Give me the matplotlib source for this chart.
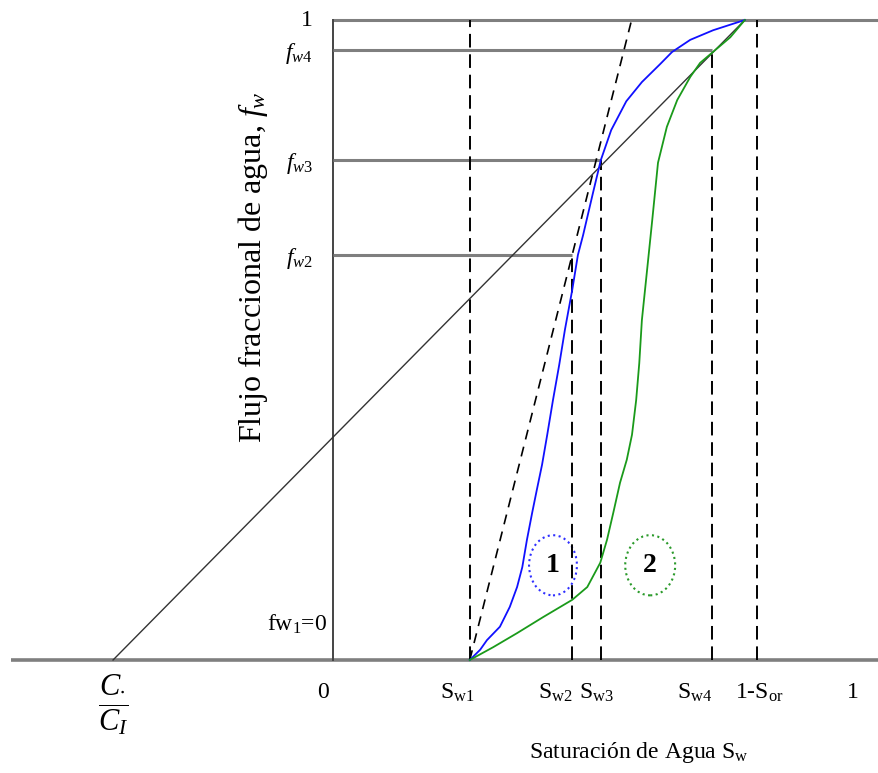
import matplotlib
matplotlib.use("Agg")
import matplotlib.pyplot as plt
from matplotlib.patches import Ellipse

plt.rcParams['font.family'] = ['Liberation Serif', 'DejaVu Serif']
plt.rcParams['mathtext.fontset'] = 'custom'
plt.rcParams['mathtext.rm'] = 'Liberation Serif'
plt.rcParams['mathtext.it'] = 'Liberation Serif:italic'
plt.rcParams['mathtext.bf'] = 'Liberation Serif:bold'

# saturation marks on the x axis
c_ratio = -0.423
sw_marks = [0.263, 0.460, 0.515, 0.729, 0.815]   # Sw1, Sw2, Sw3, Sw4, 1-Sor
sw_labels = [r'S$_{\rm w1}$', r'S$_{\rm w2}$', r'S$_{\rm w3}$', r'S$_{\rm w4}$', r'1-S$_{\rm or}$']
sw_tops = [1.0, 0.633, 0.781, 0.953, 1.0]

# fractional flow levels
fw_levels = [0.633, 0.781, 0.953]
fw_labels = [r'$f_{w2}$', r'$f_{w3}$', r'$f_{w4}$']

# curve 1 (blue)
sw_1 = [0.263, 0.283, 0.296, 0.321, 0.340, 0.354, 0.364, 0.373, 0.383, 0.392,
        0.402, 0.412, 0.423, 0.435, 0.446, 0.460, 0.471, 0.481, 0.500, 0.515,
        0.535, 0.564, 0.594, 0.629, 0.652, 0.687, 0.731, 0.769, 0.792]
fw_1 = [0.0, 0.016, 0.031, 0.052, 0.083, 0.114, 0.145, 0.188, 0.230, 0.266,
        0.305, 0.352, 0.406, 0.461, 0.516, 0.578, 0.633, 0.664, 0.730, 0.781,
        0.828, 0.873, 0.903, 0.931, 0.950, 0.969, 0.984, 0.994, 1.0]

# curve 2 (green)
sw_2 = [0.263, 0.308, 0.354, 0.404, 0.460, 0.489, 0.514, 0.527, 0.539, 0.552,
        0.565, 0.575, 0.583, 0.589, 0.594, 0.600, 0.606, 0.614, 0.625, 0.642,
        0.662, 0.687, 0.706, 0.735, 0.764, 0.792]
fw_2 = [0.0, 0.020, 0.042, 0.067, 0.094, 0.114, 0.152, 0.188, 0.230, 0.277,
        0.313, 0.352, 0.406, 0.464, 0.531, 0.578, 0.625, 0.688, 0.777, 0.833,
        0.875, 0.911, 0.933, 0.953, 0.973, 1.0]

# end point of the straight line from C/C_I
line_end = (0.792, 1.0)

fig = plt.figure(figsize=(8.79, 7.73), dpi=100)
ax = fig.add_axes([0, 0, 1, 1])
ax.set_xlim(-333 / 520, 546 / 520)
ax.set_ylim(-113 / 640, 660 / 640)
ax.axis('off')

gray = '#7f7f7f'
# base lines
ax.plot([-0.619, 1.05], [0, 0], color=gray, lw=2.6, solid_capstyle='butt', zorder=1)
ax.plot([0, 1.05], [1, 1], color=gray, lw=2.2, solid_capstyle='butt', zorder=1)
ax.plot([0, 0], [0, 1], color='#444444', lw=1.4, zorder=1)
for lev, s in zip(fw_levels, [sw_marks[1], sw_marks[2], sw_marks[3]]):
    ax.plot([0, s], [lev, lev], color=gray, lw=2.2, solid_capstyle='butt', zorder=1)

# dashed verticals
for s, top in zip(sw_marks, sw_tops):
    ax.plot([s, s], [0, top], color='black', lw=1.4, ls=(0, (7, 3.5)), zorder=2)

# tangent from Sw1 through (Sw2, fw2)
t_end = sw_marks[0] + (sw_marks[1] - sw_marks[0]) / fw_levels[0]
ax.plot([sw_marks[0], t_end], [0, 1], color='black', lw=1.2, ls=(0, (6, 4.5)), zorder=2)

# straight line from C/C_I
ax.plot([c_ratio, line_end[0]], [0, line_end[1]], color='#333333', lw=1.0, zorder=3)

ax.plot(sw_1, fw_1, color='#1010ff', lw=1.3, zorder=4, solid_joinstyle='round')
ax.plot(sw_2, fw_2, color='#1a9a1a', lw=1.3, zorder=4, solid_joinstyle='round')

# circled labels
ax.add_patch(Ellipse((0.423, 0.148), 0.092, 0.094, fill=False, ec='#3030ff', lw=1.5, ls=':'))
ax.add_patch(Ellipse((0.610, 0.148), 0.096, 0.094, fill=False, ec='#2a9a2a', lw=1.5, ls=':'))
ax.text(0.423, 0.148, '1', ha='center', va='center', fontsize=20, fontweight='bold')
ax.text(0.610, 0.148, '2', ha='center', va='center', fontsize=20, fontweight='bold')

fs = 17
# x labels
offsets = [-12, -17, -4, -17, 2]
for s, lab, off in zip(sw_marks, sw_labels, offsets):
    ax.text(s + off / 520, -0.052, lab, ha='center', va='center', fontsize=fs)
ax.text(-10 / 520, -0.050, '0', ha='center', va='center', fontsize=fs)
ax.text(1.0, -0.050, '1', ha='center', va='center', fontsize=fs)
ax.text(c_ratio, -0.070, r'$\dfrac{C_{\bullet}}{C_I}$', ha='center', va='center', fontsize=22)
ax.text(0.587, -0.145, r'Saturación de Agua S$_{\rm w}$', ha='center', va='center', fontsize=fs)

# y labels
ax.text(-20 / 520, 1.0, '1', ha='right', va='center', fontsize=fs)
for lev, lab in zip(fw_levels, fw_labels):
    ax.text(-20 / 520, lev - 0.005, lab, ha='right', va='center', fontsize=fs)
ax.text(-6 / 520, 0.055, r'fw$_{\rm 1}$=0', ha='right', va='center', fontsize=fs)
ax.text(-80 / 520, 0.614, r'Flujo fraccional de agua, $f_w$', rotation=90,
        ha='center', va='center', fontsize=23)

fig.savefig('out.png', dpi=100)
